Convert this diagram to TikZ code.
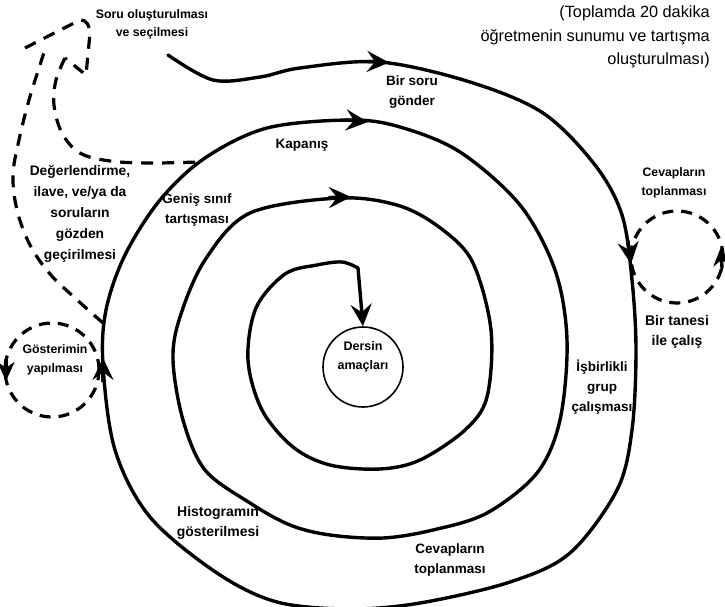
\documentclass[tikz,border=0pt]{standalone}
\usepackage{fontspec}
\setmainfont{Liberation Sans}
\usetikzlibrary{arrows.meta}
\begin{document}
\begin{tikzpicture}[x=1pt,y=-1pt,
  spiral/.style={line width=3.4pt, line join=round, line cap=round},
  dsh/.style={line width=3.2pt, dash pattern=on 12pt off 9pt},
  tipS/.style={-{Stealth[length=22pt,width=21pt,inset=8pt]}},
  lbl/.style={font=\fontsize{13.5}{20}\selectfont\bfseries, align=center, inner sep=0pt},
  big/.style={font=\fontsize{13.8}{21}\selectfont\bfseries, align=center, inner sep=0pt},
  note/.style={font=\fontsize{16.3}{23.5}\selectfont, align=right, inner sep=0pt}
]
\useasboundingbox (0,0) rectangle (725,607);

% central circle
\node[draw, circle, line width=1.6pt, minimum size=80pt, inner sep=0pt] (dersin) at (363,367) {};
\node[lbl, font=\fontsize{12.5}{19}\selectfont\bfseries] (dersintxt) at (363,357) {Dersin\\amaçları};

% main spiral
\draw[spiral] plot[smooth, tension=0.55] coordinates {(168,55) (213,80) (260,77) (300,68) (380,62) (470,82) (543,113) (595,165) (622,215) (632,280) (636,350) (632,430) (617,490) (570,553) (510,582) (420,603) (350,609) (277,602) (217,573) (150,517) (115,450) (103,365) (106,310) (125,255) (160,200) (205,158) (267,128) (350,120) (400,127) (460,152) (520,205) (555,270) (567,340) (560,420) (537,473) (487,513) (433,530) (383,538) (330,535) (290,525) (250,503) (205,470) (183,420) (173,360) (180,317) (205,260) (250,213) (340,198) (400,206) (443,230) (473,263) (491,330) (487,397) (465,430) (420,460) (380,469) (330,465) (293,447) (262,410) (248,360) (256,308) (285,274) (317,265) (342,262) (358,268)};
\coordinate (hook) at (358,268);
\draw[spiral, tipS] (hook) -- (dersin.north);

% arrowheads on spiral
\draw[spiral, tipS] (367,61.5) -- (389,62.5);
\draw[spiral, tipS] (628,241) -- (631,264);
\draw[spiral, tipS] (103,381) -- (103,358);
\draw[spiral, tipS] (346,120) -- (368,122);
\draw[spiral, tipS] (329,197.5) -- (351,197);

% dashed block arrow (left top)
\draw[dsh] plot[smooth, tension=0.6] coordinates {(103,323) (75,298) (50,274) (30,245) (17,210) (13,175) (19,140) (29,100) (40,65) (46,46)};
\draw[dsh, line join=round] (25,48) -- (80,20) to[out=10,in=90] (90,33) -- (86,75) -- (65,58);
\draw[dsh] plot[smooth, tension=0.6] coordinates {(65,58) (56,80) (54,105) (62,133) (80,153) (110,161) (150,163) (198,162)};

% dashed side circles
\node[draw, circle, dsh, dash pattern=on 11pt off 8pt, minimum size=94pt, inner sep=0pt] (gcirc) at (52,370) {};
\node[draw, circle, dsh, dash pattern=on 11pt off 8pt, minimum size=92pt, inner sep=0pt] (rcirc) at (677,257) {};
\draw[spiral, -{Stealth[length=19pt,width=17pt,inset=6pt]}] (6,360) -- (6,381);
\draw[spiral, -{Stealth[length=19pt,width=17pt,inset=6pt]}] (722,268) -- (721,247);

% labels
\node[lbl, font=\fontsize{12.3}{18}\selectfont\bfseries] (soru) at (152,24) {Soru oluşturulması\\ve seçilmesi};
\node[note, anchor=east] (toplam) at (710,37) {(Toplamda 20 dakika\\öğretmenin sunumu ve tartışma\\oluşturulması)};
\node[lbl] (birsoru) at (412,92) {Bir soru\\gönder};
\node[lbl] (kapanis) at (302,145) {Kapanış};
\node[lbl, font=\fontsize{12.3}{19}\selectfont\bfseries] (cevap1) at (674,183) {Cevapların\\toplanması};
\node[big] (deger) at (80,214) {Değerlendirme,\\ilave, ve/ya da\\soruların\\gözden\\geçirilmesi};
\node[lbl] (genis) at (197,210) {Geniş sınıf\\tartışması};
\node[lbl, font=\fontsize{14}{20}\selectfont\bfseries] (tanesi) at (677,332) {Bir tanesi\\ile çalış};
\node[lbl, font=\fontsize{12.3}{19}\selectfont\bfseries] (goster) at (55,360) {Gösterimin\\yapılması};
\node[lbl] (isbir) at (602,387) {İşbirlikli\\grup\\çalışması};
\node[lbl, font=\fontsize{14}{20}\selectfont\bfseries] (histo) at (218,523) {Histogramın\\gösterilmesi};
\node[lbl] (cevap2) at (450,560) {Cevapların\\toplanması};
\end{tikzpicture}
\end{document}
